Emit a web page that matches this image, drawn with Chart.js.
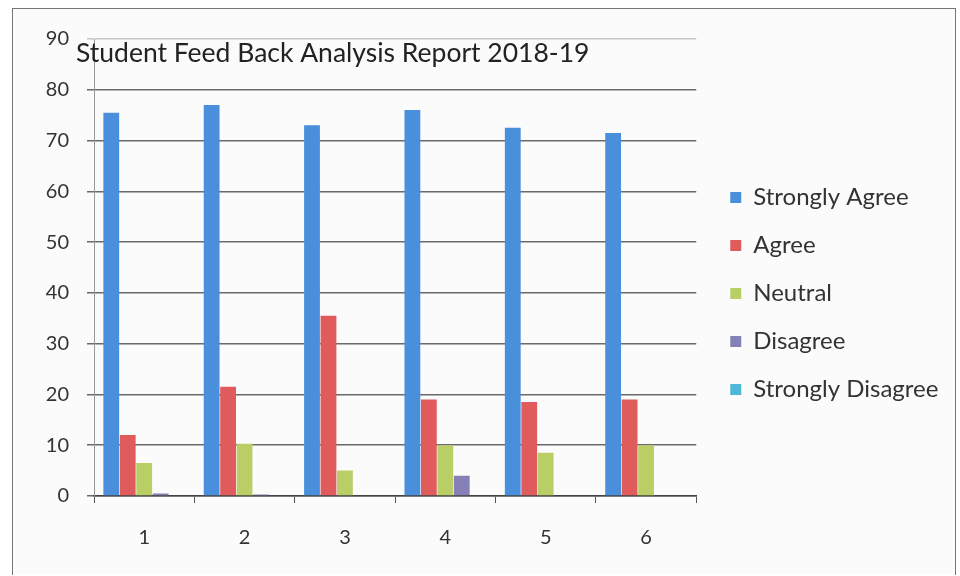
<!DOCTYPE html>
<html>
<head>
<meta charset="utf-8">
<script src="https://cdn.jsdelivr.net/npm/chart.js@4.4.1/dist/chart.umd.min.js"></script>
<style>
  html, body { margin: 0; padding: 0; background: #fff; }
  .frame {
    position: absolute; left: 12px; top: 8px; width: 942px; height: 566px;
    border: 1px solid #777; border-bottom: none; background: #fbfbfb;
  }
  canvas { display: block; }
</style>
</head>
<body>
<div class="frame">
  <canvas id="chart" width="942" height="566"></canvas>
</div>
<script>
// data
const categories = ["1", "2", "3", "4", "5", "6"];
const seriesNames = ["Strongly Agree", "Agree", "Neutral", "Disagree", "Strongly Disagree"];
const stronglyAgree = [75.5, 77, 73, 76, 72.5, 71.5];
const agree = [12, 21.5, 35.5, 19, 18.5, 19];
const neutral = [6.5, 10.3, 5, 10, 8.5, 10];
const disagree = [0.5, 0.3, 0, 4, 0, 0];
const stronglyDisagree = [0, 0, 0, 0, 0, 0];
const yTicks = [0, 10, 20, 30, 40, 50, 60, 70, 80, 90];
const chartTitle = "Student Feed Back Analysis Report 2018-19";

const colors = ["#4a8fdb", "#e05b5c", "#b9cf66", "#8580b5", "#4fb8d6"];
const values = [stronglyAgree, agree, neutral, disagree, stronglyDisagree];

// title sits over the plot like the Excel original
const titlePlugin = {
  id: "overlayTitle",
  afterLayout(chart) {
    // nudge legend right/up to where the original had it
    const l = chart.legend;
    l.left += 10;
    l.right = chart.width;
    l.width = l.right - l.left;
    l.top -= 13; l.bottom -= 13;
  },
  afterDraw(chart) {
    const ctx = chart.ctx;
    ctx.save();
    ctx.font = "26.5px Lato";
    ctx.fillStyle = "#222";
    ctx.textBaseline = "alphabetic";
    ctx.fillText(chartTitle, 63, 53);
    ctx.restore();
  }
};

new Chart(document.getElementById("chart"), {
  type: "bar",
  data: {
    labels: categories,
    datasets: seriesNames.map((name, i) => ({
      label: name,
      data: values[i],
      backgroundColor: colors[i],
      borderWidth: 0,
      categoryPercentage: 0.82,
      barPercentage: 0.96
    }))
  },
  options: {
    responsive: false,
    animation: false,
    layout: { padding: { left: 0, right: 31, top: 29, bottom: 0 } },
    scales: {
      x: {
        grid: { display: true, drawOnChartArea: false, color: "#555", tickLength: 7, offset: true },
        border: { color: "#444", width: 1.5 },
        ticks: { color: "#333", font: { family: "Lato", size: 20 }, padding: 23 },
        afterFit: s => { s.height = 79; }
      },
      y: {
        min: 0, max: 90,
        afterBuildTicks: axis => { axis.ticks = yTicks.map(v => ({ value: v })); },
        grid: { color: ctx => ctx.tick && ctx.tick.value === 90 ? "#c8c8c8" : "#6a6a6a", lineWidth: 1.5, tickLength: 7 },
        border: { color: "#999", width: 1 },
        ticks: { color: "#333", font: { family: "Lato", size: 20 }, padding: 18 },
        afterFit: s => { s.width = 81; }
      }
    },
    plugins: {
      legend: {
        position: "right",
        align: "center",
        labels: {
          color: "#333",
          font: { family: "Lato", size: 24 },
          boxWidth: 11, boxHeight: 11,
          padding: 24
        }
      },
      tooltip: { enabled: false }
    }
  },
  plugins: [titlePlugin]
});
</script>
</body>
</html>
